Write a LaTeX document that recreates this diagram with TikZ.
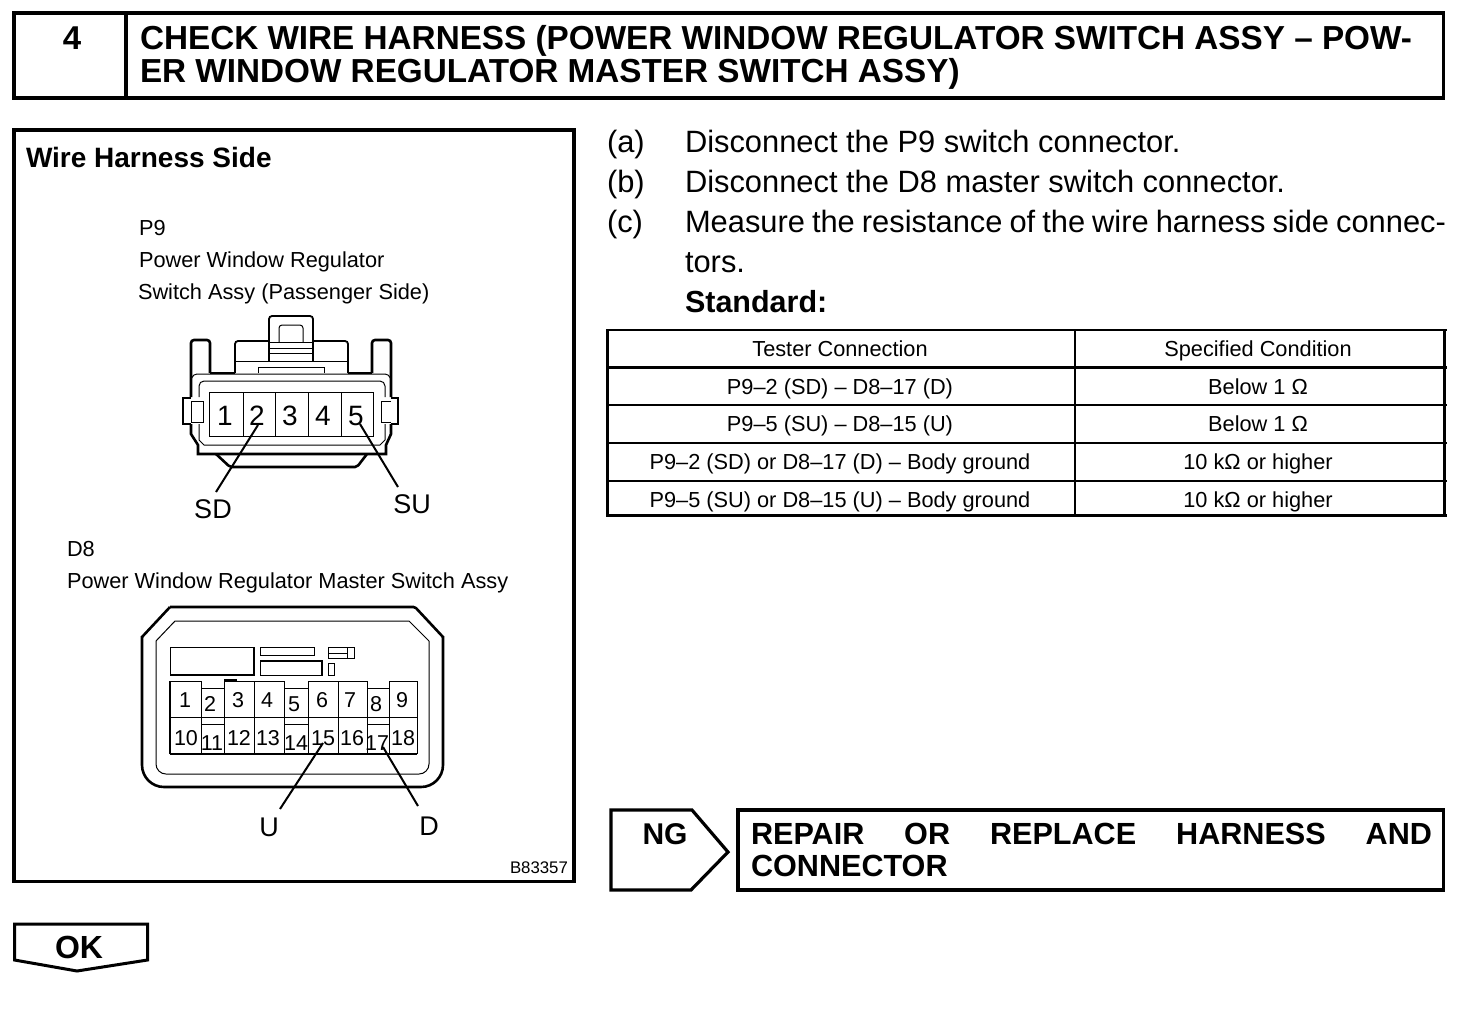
\documentclass[tikz,border=0pt]{standalone}
\usepackage{fontspec}
\setmainfont{Liberation Sans}
\newcommand{\fs}[1]{\fontsize{#1}{#1}\selectfont}
\tikzset{
  box/.style={draw=black,line width=3.2pt,fill=white},
  framed/.style={box,rectangle,inner sep=0pt,outer sep=0pt,anchor=north west},
  rule/.style={draw=black,line width=2.6pt},
  thin part/.style={draw=black,line width=1pt},
  mid part/.style={draw=black,line width=1.8pt},
  heavy part/.style={draw=black,line width=2.6pt},
  leader/.style={draw=black,line width=2pt},
  txt/.style={inner sep=0pt,outer sep=0pt,anchor=base west,text=black},
  ctr/.style={inner sep=0pt,outer sep=0pt,anchor=base,text=black},
  title/.style={txt,font=\fs{33.28}\bfseries},
  body/.style={txt,font=\fs{30.85}},
  small/.style={txt,font=\fs{21.75}},
  cell/.style={ctr,font=\fs{21.75}},
  pin/.style={ctr,font=\fs{28}},
  dpin/.style={ctr,font=\fs{21.5}},
  lab/.style={ctr,font=\fs{27}},
}
\begin{document}
\begin{tikzpicture}[x=1pt,y=-1pt]
\useasboundingbox (0,0) rectangle (1472,1010);
% header
\node[framed,minimum width=1429.5pt,minimum height=85pt] (header) at (14,13) {};
\draw[box] (126,13) -- (126,98);
\node[ctr,font=\fs{33}\bfseries] (stepnum) at (72,49) {4};
\node[title] (t1) at (140,49) {CHECK WIRE HARNESS (POWER WINDOW REGULATOR SWITCH ASSY – POW-};
\node[title] (t2) at (140,82.5) {ER WINDOW REGULATOR MASTER SWITCH ASSY)};
% left panel
\node[framed,minimum width=560pt,minimum height=751.5pt] (panel) at (14,130) {};
\node[txt,font=\fs{28}\bfseries] (wh) at (26,167) {Wire Harness Side};
\node[small] (p9a) at (139,235) {P9};
\node[small] (p9b) at (139,267) {Power Window Regulator};
\node[small] (p9c) at (138,299) {Switch Assy (Passenger Side)};
\node[small] (d8a) at (67,556) {D8};
\node[small] (d8b) at (67,588) {Power Window Regulator Master Switch Assy};
\node[txt,font=\fs{16.8}] (code) at (510,873) {B83357};
% P9 connector
\draw[mid part,rounded corners=3pt] (269,361) -- (269,316) -- (313,316) -- (313,361);
\draw[thin part,rounded corners=3pt] (279,342) -- (279,325) -- (303,325) -- (303,342);
\draw[thin part] (269,342) -- (313,342) (269,348) -- (313,348) (269,353) -- (313,353) (235,361) -- (348,361);
\draw[mid part,rounded corners=3pt] (235,373) -- (235,341) -- (269,341);
\draw[mid part,rounded corners=3pt] (313,341) -- (348,341) -- (348,373);
\draw[thin part] (258,373) -- (258,367) -- (324,367) -- (324,373);
\draw[heavy part,rounded corners=3pt] (191,397) -- (191,340) -- (210,340) -- (210,373);
\draw[heavy part,rounded corners=3pt] (372,373) -- (372,340) -- (391,340) -- (391,397);
\draw[heavy part] (210,373) -- (235,373) (348,373) -- (372,373);
\draw[thin part,rounded corners=4pt] (191,380) -- (193,374) -- (389,374) -- (391,380);
\draw[thin part,rounded corners=5pt] (199,397) -- (199,381) -- (385,381) -- (385,397);
\draw[heavy part] (191,424) -- (191,434) -- (198,445) -- (198,454) -- (386,454) -- (386,445) -- (391,434) -- (391,424);
\draw[thin part] (199,424) -- (199,440) -- (204,445) -- (380,445) -- (385,440) -- (385,424);
\draw[heavy part,rounded corners=2pt] (216,454) -- (230,467) -- (357,467) -- (367,454);
\draw[heavy part] (191,398) -- (183,398) -- (183,424) -- (191,424);
\draw[thin part] (191,401) -- (203,401) -- (203,422) -- (191,422) -- cycle;
\draw[heavy part] (391,398) -- (398,398) -- (398,424) -- (391,424);
\draw[thin part] (391,401) -- (381,401) -- (381,422) -- (391,422);
\draw[thin part] (209,392) rectangle (373,436);
\draw[thin part] (243,392) -- (243,436) (275,392) -- (275,436) (308,392) -- (308,436) (341,392) -- (341,436);
\node[pin] (p1) at (225,425) {1};
\node[pin] (p2) at (257,425) {2};
\node[pin] (p3) at (290,425) {3};
\node[pin] (p4) at (323,425) {4};
\node[pin] (p5) at (356,425) {5};
\node[lab] (sd) at (213,518) {SD};
\node[lab] (su) at (412,513) {SU};
\coordinate (sdfrom) at (216,492);
\coordinate (sdto) at (258,425);
\coordinate (sufrom) at (398,487);
\coordinate (suto) at (360,424);
\draw[leader] (sdfrom) -- (sdto);
\draw[leader] (sufrom) -- (suto);
% D8 connector
\draw[heavy part,rounded corners=1.5pt] (170,607) -- (415,607) -- (443,637);
\draw[heavy part,rounded corners=1.5pt] (170,607) -- (142,637);
\draw[heavy part,rounded corners=22pt] (142,636) -- (142,787) -- (443,787) -- (443,636);
\draw[thin part,rounded corners=10pt] (156,641) -- (156,774) -- (429,774) -- (429,641);
\draw[thin part] (156,641) -- (175,621) -- (409,621) -- (429,641);
\draw[thin part] (170,647) rectangle (254,675);
\draw[mid part] (170,675) -- (254,675) -- (254,647);
\draw[thin part] (260,647) rectangle (314,655);
\draw[thin part] (260,661) rectangle (322,675);
\draw[mid part] (260,661) -- (322,661) -- (322,675);
\draw[thin part] (328,647) rectangle (354,658);
\draw[thin part] (328,653) -- (347,653) (347,647) -- (347,658);
\draw[thin part] (328,663) rectangle (334,675);
\draw[mid part] (170,754) -- (170,681);
\draw[mid part] (170,754) -- (417,754);
\draw[thin part] (417,754) -- (417,681) -- (389,681) -- (389,754);
\draw[thin part] (170,681) -- (201,681) -- (201,754);
\draw[thin part] (201,688) -- (224,688);
\draw[thin part] (224,754) -- (224,681) -- (284,681) -- (284,754);
\draw[mid part] (224,680) -- (237,680);
\draw[thin part] (254,681) -- (254,754);
\draw[thin part] (284,688) -- (308,688);
\draw[thin part] (308,754) -- (308,681) -- (367,681) -- (367,754);
\draw[thin part] (338,681) -- (338,754);
\draw[thin part] (367,688) -- (389,688);
\draw[thin part] (170,717) -- (417,717);
\draw[thin part] (201,724) -- (224,724) (284,724) -- (308,724) (367,724) -- (389,724);
\node[dpin] (d1) at (185,707) {1};
\node[dpin] (d2) at (210,711) {2};
\node[dpin] (d3) at (238,707) {3};
\node[dpin] (d4) at (267,707) {4};
\node[dpin] (d5) at (294,711) {5};
\node[dpin] (d6) at (322,707) {6};
\node[dpin] (d7) at (350,707) {7};
\node[dpin] (d8) at (376,711) {8};
\node[dpin] (d9) at (402,707) {9};
\node[dpin] (d10) at (186,745) {10};
\node[dpin] (d11) at (212,750) {11};
\node[dpin] (d12) at (239,745) {12};
\node[dpin] (d13) at (268,745) {13};
\node[dpin] (d14) at (296,750) {14};
\node[dpin] (d15) at (323,745) {15};
\node[dpin] (d16) at (352,745) {16};
\node[dpin] (d17) at (377,750) {17};
\node[dpin] (d18) at (403,745) {18};
\node[lab] (ulab) at (269,836) {U};
\node[lab] (dlab) at (429,835) {D};
\coordinate (ufrom) at (280,809);
\coordinate (uto) at (323,743);
\coordinate (dfrom) at (418,806);
\coordinate (dto) at (383,747);
\draw[leader] (ufrom) -- (uto);
\draw[leader] (dfrom) -- (dto);
% right text
\node[body] (la) at (607,152) {(a)};
\node[body] (lb) at (607,192) {(b)};
\node[body] (lc) at (607,232) {(c)};
\node[body] (ta) at (685,152) {Disconnect the P9 switch connector.};
\node[body] (tb) at (685,192) {Disconnect the D8 master switch connector.};
\node[body] (tc) at (685,232) {\hbox to 761pt{Measure\hfill the\hfill resistance\hfill of\hfill the\hfill wire\hfill harness\hfill side\hfill connec-}};
\node[body] (tc2) at (685,272) {tors.};
\node[txt,font=\fs{30.5}\bfseries] (std) at (685,312) {Standard:};
% table
\draw[rule] (607,330) -- (1447,330) (607,367.5) -- (1447,367.5) (607,405) -- (1447,405) (607,443) -- (1447,443) (607,481) -- (1447,481) (607,515.5) -- (1447,515.5);
\draw[rule] (607.5,329) -- (607.5,517) (1075,329) -- (1075,517) (1444.5,329) -- (1444.5,517);
\node[cell] (h1) at (840,356) {Tester Connection};
\node[cell] (h2) at (1258,356) {Specified Condition};
\node[cell] (r1a) at (840,394) {P9–2 (SD) – D8–17 (D)};
\node[cell] (r1b) at (1258,394) {Below 1 Ω};
\node[cell] (r2a) at (840,431) {P9–5 (SU) – D8–15 (U)};
\node[cell] (r2b) at (1258,431) {Below 1 Ω};
\node[cell] (r3a) at (840,469) {P9–2 (SD) or D8–17 (D) – Body ground};
\node[cell] (r3b) at (1258,469) {10 kΩ or higher};
\node[cell] (r4a) at (840,507) {P9–5 (SU) or D8–15 (U) – Body ground};
\node[cell] (r4b) at (1258,507) {10 kΩ or higher};
% NG
\draw[box] (611,810) -- (692,810) -- (728,852) -- (691,890) -- (611,890) -- cycle;
\node[ctr,font=\fs{30}\bfseries] (ng) at (665,844) {NG};
\node[framed,minimum width=705.5pt,minimum height=80pt] (repair) at (738,810) {};
\node[txt,font=\fs{30.6}\bfseries] (rp1) at (751,844) {\hbox to 681pt{REPAIR\hfill OR\hfill REPLACE\hfill HARNESS\hfill AND}};
\node[txt,font=\fs{30.6}\bfseries] (rp2) at (751,876) {CONNECTOR};
% OK
\draw[box,line width=3pt] (14.5,924) -- (147.5,924) -- (147.5,960) -- (77,971) -- (14.5,960) -- cycle;
\node[ctr,font=\fs{32}\bfseries] (ok) at (79,958) {OK};
\end{tikzpicture}
\end{document}
